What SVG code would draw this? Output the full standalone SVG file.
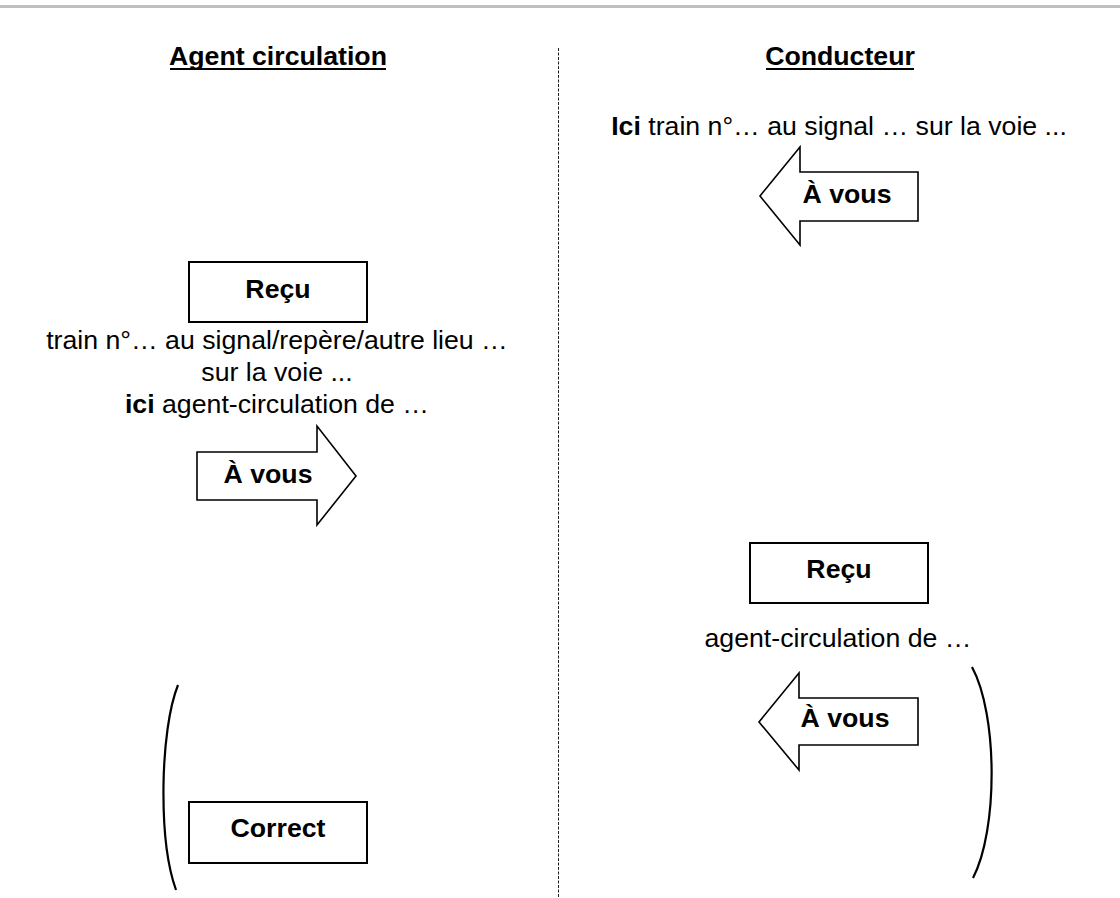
<svg xmlns="http://www.w3.org/2000/svg" width="1120" height="898" viewBox="0 0 1120 898">
<style>
text{font-family:"Liberation Sans",Arial,sans-serif;font-size:26.7px;fill:#000;text-anchor:middle}
.b{font-weight:bold}
.box{fill:#fff;stroke:#000;stroke-width:2}
.arr{fill:#fff;stroke:#000;stroke-width:1.6;stroke-linejoin:miter}
.br{fill:none;stroke:#000;stroke-width:2.2}
</style>
<rect x="0" y="5" width="1120" height="3" fill="#bfbfbf"/>
<line x1="558.5" y1="48" x2="558.5" y2="898" stroke="#222" stroke-width="1" stroke-dasharray="3,1.5"/>
<g id="header-agent"><text class="b" x="278" y="65">Agent circulation</text><rect x="170" y="68" width="216" height="2"/></g>
<g id="header-conducteur"><text class="b" x="840" y="65">Conducteur</text><rect x="766" y="68" width="148" height="2"/></g>
<g id="msg-ici"><text x="839" y="135"><tspan class="b">Ici</tspan> train n°… au signal … sur la voie ...</text></g>
<g id="arrow-1"><polygon class="arr" points="760,196 800,147 800,172 918,172 918,221 800,221 800,245"/><text class="b" x="847" y="203">À vous</text></g>
<g id="recu-1"><rect class="box" x="189" y="262" width="178" height="60"/><text class="b" x="278" y="298">Reçu</text></g>
<g id="msg-train">
<text x="277" y="349">train n°… au signal/repère/autre lieu …</text>
<text x="277" y="381">sur la voie ...</text>
<text x="277" y="413"><tspan class="b">ici</tspan> agent-circulation de …</text>
</g>
<g id="arrow-2"><polygon class="arr" points="197,452 317,452 317,426 356,476 317,525 317,500 197,500"/><text class="b" x="268" y="483">À vous</text></g>
<g id="recu-2"><rect class="box" x="750" y="543" width="178" height="60"/><text class="b" x="839" y="578">Reçu</text></g>
<g id="msg-agent"><text x="838" y="647">agent-circulation de …</text></g>
<g id="arrow-3"><polygon class="arr" points="759,722 799,673 799,698 918,698 918,745 799,745 799,770"/><text class="b" x="845" y="727">À vous</text></g>
<g id="correct"><rect class="box" x="189" y="802" width="178" height="61"/><text class="b" x="278" y="837">Correct</text></g>
<g id="connectors">
<path class="br" d="M178,685 C160,730 158,840 176,890"/>
<path class="br" d="M972,667 C998,715 998,830 973,878"/>
</g>
</svg>
